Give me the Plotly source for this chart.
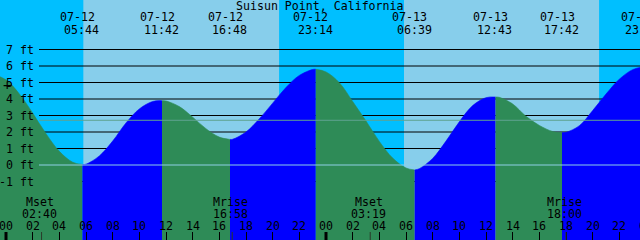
import plotly.graph_objects as go

# ---------------- data ----------------
title = "Suisun Point, California"

# hourly tide heights (ft), hours counted from 07-12 00:00
hours = list(range(-1, 49))
heights = [5.48, 5.16, 4.31, 3.15, 1.90, 0.83, 0.17, 0.05, 0.55, 1.45,
           2.55, 3.40, 3.85, 3.88, 3.54, 2.90, 2.20, 1.69, 1.56, 2.00,
           2.80, 3.75, 4.70, 5.43, 5.79, 5.64, 4.99, 3.85, 2.67, 1.43,
           0.42, -0.18, -0.22, 0.40, 1.45, 2.62, 3.60, 4.08, 4.10, 3.70,
           2.95, 2.40, 2.03, 1.98, 2.38, 3.30, 4.30, 5.20, 5.78, 5.94]

# high / low tide extremes
ext_t = [-1.8, 5.733, 11.7, 16.8, 23.233, 30.65, 36.717, 41.7, 47.8]
ext_h = [5.50, 0.03, 3.90, 1.55, 5.80, -0.30, 4.12, 1.96, 5.95]
ext_date = ["07-11", "07-12", "07-12", "07-12", "07-12", "07-13", "07-13", "07-13", "07-13"]
ext_time = ["22:12", "05:44", "11:42", "16:48", "23:14", "06:39", "12:43", "17:42", "23:48"]

# sun (day shading)
sunrise = [5.80, 29.85]
sunset = [20.48, 44.48]

# moon events
moon_t = [2.667, 16.967, 27.317, 42.0]
moon_name = ["Mset", "Mrise", "Mset", "Mrise"]
moon_time = ["02:40", "16:58", "03:19", "18:00"]

# axis labels
ft_vals = [7, 6, 5, 4, 3, 2, 1, 0, -1]
ft_text = ["7 ft", "6 ft", "5 ft", "4 ft", "3 ft", "2 ft", "1 ft", "0 ft", "-1 ft"]
tick_hours = list(range(0, 49, 2))
tick_text = ["%02d" % (h % 24) for h in tick_hours]
midnights = [0, 24]
mean_level = 2.71

# ---------------- styles ----------------
NIGHT = "#00BFFF"
DAY = "#87CEEB"
RISE = "#0000FF"
FALL = "#2E8B57"
FONT = "DejaVu Sans Mono"
FS = 11.6
X0, X1 = -0.45, 47.55
Y0, Y1 = -4.545, 10.0
BASE = -6


def xp(t):
    return (t - X0) / (X1 - X0)


def yp(py):
    return 1 - py / 240.0


fig = go.Figure()

pts = sorted(zip(hours + ext_t, heights + ext_h))
for i in range(len(ext_t) - 1):
    a, b = ext_t[i], ext_t[i + 1]
    seg = [p for p in pts if a <= p[0] <= b]
    col = RISE if ext_h[i + 1] > ext_h[i] else FALL
    fig.add_trace(go.Scatter(x=[a, b], y=[BASE, BASE], mode="lines",
                             line=dict(width=0), hoverinfo="skip", showlegend=False))
    fig.add_trace(go.Scatter(x=[p[0] for p in seg], y=[p[1] for p in seg], mode="lines",
                             line=dict(width=0.6, shape="spline", color=col),
                             fill="tonexty", fillcolor=col, hoverinfo="skip", showlegend=False))

shapes = []
for r, s in zip(sunrise, sunset):
    shapes.append(dict(type="rect", xref="x", yref="paper", x0=r, x1=s, y0=0, y1=1,
                       fillcolor=DAY, line=dict(width=0), layer="below"))
for v in ft_vals:
    if v != 0:
        shapes.append(dict(type="line", xref="paper", yref="y", x0=39 / 640, x1=1, y0=v, y1=v,
                           line=dict(color="black", width=1), layer="below"))
shapes.append(dict(type="line", xref="paper", yref="y", x0=39 / 640, x1=1, y0=0, y1=0,
                   line=dict(color="#8ECFE6", width=1), layer="above"))
shapes.append(dict(type="line", xref="paper", yref="y", x0=39 / 640, x1=1, y0=mean_level, y1=mean_level,
                   line=dict(color="#5FA391", width=1), layer="above"))
for m in midnights:
    shapes.append(dict(type="line", xref="x", yref="paper", x0=m, x1=m, y0=0, y1=8 / 240,
                       line=dict(color="black", width=3), layer="above"))
for m in moon_t:
    shapes.append(dict(type="line", xref="x", yref="paper", x0=m, x1=m, y0=0, y1=8 / 240,
                       line=dict(color="#2a3a2a", width=1), layer="above"))

ann = []


def txt(x, y, s, xanchor="center", size=FS):
    ann.append(dict(x=x, y=y, xref="paper", yref="paper", text=s, showarrow=False,
                    xanchor=xanchor, yanchor="middle", font=dict(family=FONT, size=size, color="black")))


txt(0.5, yp(6), title)
for t, d, s in zip(ext_t, ext_date, ext_time):
    txt(xp(t - 0.37), yp(17.5), d)
    txt(xp(t - 0.05), yp(29.5), s)
for t, n, s in zip(moon_t, moon_name, moon_time):
    txt(xp(t - 0.12), yp(202), n)
    txt(xp(t - 0.12), yp(213.5), s)
for t, s in zip(tick_hours, tick_text):
    txt(xp(t), yp(226), s)
for v, s in zip(ft_vals, ft_text):
    ann.append(dict(x=36 / 640, y=v, xref="paper", yref="y", text=s, showarrow=False,
                    xanchor="right", yanchor="middle", font=dict(family=FONT, size=FS, color="black")))
txt(7 / 640, yp(84.7), "+", size=14)

fig.update_layout(
    width=640, height=240, margin=dict(l=0, r=0, t=0, b=0),
    plot_bgcolor=NIGHT, paper_bgcolor=NIGHT, showlegend=False,
    shapes=shapes, annotations=ann,
    xaxis=dict(range=[X0, X1], showgrid=False, zeroline=False, showline=False,
               tickmode="array", tickvals=tick_hours, ticks="inside", ticklen=8,
               tickwidth=1, tickcolor="black", showticklabels=False, fixedrange=True),
    yaxis=dict(range=[Y0, Y1], showgrid=False, zeroline=False, showline=False,
               showticklabels=False, ticks="", fixedrange=True),
)

fig.write_html("out.html", config={"displayModeBar": False})
